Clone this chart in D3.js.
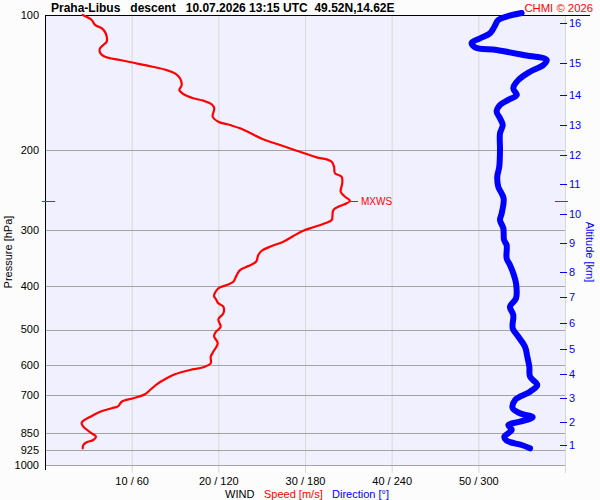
<!DOCTYPE html>
<html><head><meta charset="utf-8">
<script src="https://cdn.jsdelivr.net/npm/d3@7"></script>
<style>
body{margin:0;background:#fcfcfc}
svg{display:block;font-family:Arial,"Liberation Sans",sans-serif}
</style>
</head><body><svg id="c" width="600" height="500"></svg>
<script>
// ---- data ----
const titleText = "Praha-Libus   descent   10.07.2026 13:15 UTC  49.52N,14.62E";
const copyrightText = "CHMI \u00a9 2026";
const pressureTicks = [100, 200, 300, 400, 500, 600, 700, 850, 925, 1000];
const speedTicks = [10, 20, 30, 40, 50];
const dirTicks = [60, 120, 180, 240, 300];
const altKm = [1, 2, 3, 4, 5, 6, 7, 8, 9, 10, 11, 12, 13, 14, 15, 16];
const altP = [904.1, 803.9, 708.7, 628.6, 553.4, 484.4, 422.7, 373.0, 321.6, 277.3, 237.8, 205.0, 175.9, 150.6, 128.0, 104.0];

const speedP = [100, 102.6, 105.2, 107.0, 109.8, 114.6, 116.6, 118.6, 121.3, 123.8, 125.9, 128.0, 130.3, 132.5, 134.8, 138.2, 143.1, 146.8, 149.8, 153.1, 155.0, 157.9, 161.2, 168.3, 172.6, 175.6, 178.6, 189.6, 194.5, 200.3, 203.7, 207.2, 209.3, 211.8, 217.3, 224.8, 228.8, 236.6, 247.0, 253.4, 258.6, 262.1, 265.7, 271.3, 285.5, 290.3, 296.3, 301.5, 309.8, 319.0, 327.3, 334.1, 341.5, 353.4, 361.3, 368.8, 378.4, 391.6, 398.1, 404.9, 414.1, 421.2, 428.3, 437.2, 444.9, 460.2, 474.5, 492.8, 505.6, 516.8, 536.5, 563.0, 574.6, 594.3, 606.6, 615.1, 628.7, 641.7, 661.7, 681.3, 696.5, 710.9, 723.4, 739.5, 748.2, 761.3, 778.3, 805.4, 822.0, 850.3, 865.2, 880.0, 890.4, 902.8, 918.2];
const speedV = [4.35, 5.39, 5.77, 6.54, 7.0, 7.12, 6.73, 6.35, 6.35, 6.92, 8.65, 10.5, 12.4, 14.0, 15.0, 15.58, 15.77, 15.5, 15.96, 17.11, 18.27, 19.23, 19.53, 19.35, 20.0, 21.35, 22.5, 25.38, 27.12, 29.04, 30.2, 31.35, 32.5, 33.08, 33.35, 33.46, 34.23, 34.3, 34.12, 34.62, 35.19, 34.81, 34.04, 33.27, 33.08, 32.31, 30.96, 29.8, 28.65, 27.5, 25.96, 25.0, 24.61, 24.35, 23.46, 22.5, 22.12, 21.73, 20.96, 20.0, 19.62, 19.5, 19.73, 20.0, 20.58, 20.58, 20.0, 20.27, 19.73, 19.5, 19.93, 19.35, 19.12, 19.12, 18.27, 16.73, 15.0, 14.04, 12.89, 12.12, 11.54, 10.19, 8.85, 8.46, 7.7, 6.35, 5.39, 4.23, 4.42, 5.39, 5.88, 5.57, 4.81, 4.42, 4.35];

const dirP = [99.0, 100.8, 102.6, 106.2, 109.8, 112.7, 115.2, 118.0, 119.6, 122.7, 125.9, 129.2, 133.7, 139.5, 145.5, 150.6, 154.4, 158.5, 164.0, 169.7, 175.6, 183.2, 199.5, 217.3, 228.8, 240.8, 255.5, 275.9, 285.5, 297.8, 316.2, 324.5, 347.3, 359.4, 375.0, 394.8, 426.1, 444.9, 464.2, 496.9, 518.7, 545.9, 574.6, 604.7, 636.5, 664.1, 687.3, 717.2, 748.2, 767.6, 783.4, 801.3, 814.9, 836.0, 865.2, 883.1, 902.8, 918.2];
const dirV = [330.0, 319.6, 313.8, 311.1, 308.1, 301.2, 295.4, 297.7, 312.7, 331.1, 347.3, 345.0, 335.8, 327.7, 324.2, 326.6, 320.8, 315.0, 312.7, 315.0, 316.9, 315.0, 315.0, 314.5, 313.1, 313.8, 317.5, 316.2, 315.0, 317.3, 317.8, 319.6, 319.6, 321.9, 324.2, 326.1, 326.1, 321.9, 324.2, 323.8, 327.7, 332.3, 333.9, 335.3, 335.8, 340.8, 335.8, 325.4, 323.8, 328.8, 337.6, 328.8, 320.8, 323.1, 318.0, 319.6, 330.0, 335.8];

// ---- drawing ----
const svg = d3.select('#c');
const X0 = 45, X1 = 565, Y0 = 15, Y1 = 465;
const y = d3.scaleLog().domain([100, 1000]).range([Y0, Y1]);
const xs = d3.scaleLinear().domain([0, 60]).range([X0, X1]);
const xd = d3.scaleLinear().domain([0, 360]).range([X0, X1]);

svg.append('rect').attr('x', X0).attr('y', Y0).attr('width', X1 - X0).attr('height', Y1 - Y0).attr('fill', '#f0f0ff');

// vertical grid
svg.append('g').selectAll('line').data(speedTicks.concat([60])).join('line')
  .attr('x1', d => xs(d) + 0.5).attr('x2', d => xs(d) + 0.5)
  .attr('y1', Y0).attr('y2', Y1 + 8)
  .attr('stroke', '#d8d8d8').attr('stroke-width', 1);

// horizontal grid
svg.append('g').selectAll('line').data(pressureTicks.slice(1)).join('line')
  .attr('x1', X0).attr('x2', X1)
  .attr('y1', d => Math.round(y(d)) + 0.5).attr('y2', d => Math.round(y(d)) + 0.5)
  .attr('stroke', '#a4a4a4').attr('stroke-width', 1);

// axes frame
svg.append('line').attr('x1', X0 + 0.5).attr('x2', X0 + 0.5).attr('y1', Y0).attr('y2', Y1 + 5).attr('stroke', '#000');
svg.append('line').attr('x1', X0).attr('x2', 590).attr('y1', Y0 + 0.5).attr('y2', Y0 + 0.5).attr('stroke', '#000');

// pressure labels
svg.append('g').selectAll('text').data(pressureTicks).join('text')
  .attr('x', 39).attr('y', d => y(d)).attr('dy', '0.35em')
  .attr('text-anchor', 'end').attr('font-size', 11).attr('fill', '#000')
  .text(d => d);

// bottom labels
svg.append('g').selectAll('text').data(speedTicks).join('text')
  .attr('x', d => xs(d) + 0.5).attr('y', 485)
  .attr('text-anchor', 'middle').attr('font-size', 11).attr('fill', '#000')
  .text((d, i) => d + ' / ' + dirTicks[i]);

svg.append('text').attr('x', 225).attr('y', 498).attr('font-size', 11).attr('fill', '#000').text('WIND');
svg.append('text').attr('x', 264).attr('y', 498).attr('font-size', 11).attr('fill', '#ff0000').text('Speed [m/s]');
svg.append('text').attr('x', 332).attr('y', 498).attr('font-size', 11).attr('fill', '#0000ff').text('Direction [\u00b0]');

svg.append('text').attr('transform', 'translate(12,252) rotate(-90)')
  .attr('text-anchor', 'middle').attr('font-size', 11).attr('fill', '#000').text('Pressure [hPa]');
svg.append('text').attr('transform', 'translate(586,252) rotate(90)')
  .attr('text-anchor', 'middle').attr('font-size', 11).attr('fill', '#0000ff').text('Altitude [km]');

// altitude ticks
const ag = svg.append('g');
ag.selectAll('line').data(altKm).join('line')
  .attr('x1', 560).attr('x2', 567)
  .attr('y1', (d, i) => Math.round(y(altP[i])) + 0.5).attr('y2', (d, i) => Math.round(y(altP[i])) + 0.5)
  .attr('stroke', '#0000ff').attr('stroke-width', 1);
ag.selectAll('text').data(altKm).join('text')
  .attr('x', 569).attr('y', (d, i) => y(altP[i])).attr('dy', '0.35em')
  .attr('font-size', 11).attr('fill', '#0000ff').text(d => d);

// title
svg.append('text').attr('x', 51).attr('y', 11.5).attr('font-size', 12).attr('font-weight', 'bold')
  .style('white-space', 'pre').attr('fill', '#000').text(titleText);
svg.append('text').attr('x', 593).attr('y', 11.5).attr('font-size', 11.3).attr('text-anchor', 'end')
  .attr('fill', '#ff0000').text(copyrightText);

// direction line
const dirData = dirP.map((p, i) => [xd(dirV[i]), y(p)]);
svg.append('path').attr('d', d3.line().curve(d3.curveCatmullRom.alpha(0.5))(dirData))
  .attr('fill', 'none').attr('stroke', '#0000ff').attr('stroke-width', 6)
  .attr('stroke-linejoin', 'round').attr('stroke-linecap', 'round');

// speed line
const spData = speedP.map((p, i) => [xs(speedV[i]), y(p)]);
svg.append('path').attr('d', d3.line().curve(d3.curveCatmullRom.alpha(0.5))(spData))
  .attr('fill', 'none').attr('stroke', '#ff0000').attr('stroke-width', 2.2)
  .attr('stroke-linejoin', 'round').attr('stroke-linecap', 'round');

// max wind marker
const iMax = d3.maxIndex(speedV);
const yMax = Math.round(y(speedP[iMax])) + 0.5;
const xMax = xs(speedV[iMax]);
svg.append('line').attr('x1', xMax + 1).attr('x2', xMax + 8).attr('y1', yMax).attr('y2', yMax).attr('stroke', '#ff0000');
svg.append('text').attr('x', xMax + 11).attr('y', yMax).attr('dy', '0.35em').attr('font-size', 10).attr('fill', '#ff0000').text('MXWS');
svg.append('line').attr('x1', 42).attr('x2', 55).attr('y1', yMax).attr('y2', yMax).attr('stroke', '#ff0000');
svg.append('line').attr('x1', 555).attr('x2', 568).attr('y1', yMax).attr('y2', yMax).attr('stroke', '#ff0000');
</script>
</body></html>
